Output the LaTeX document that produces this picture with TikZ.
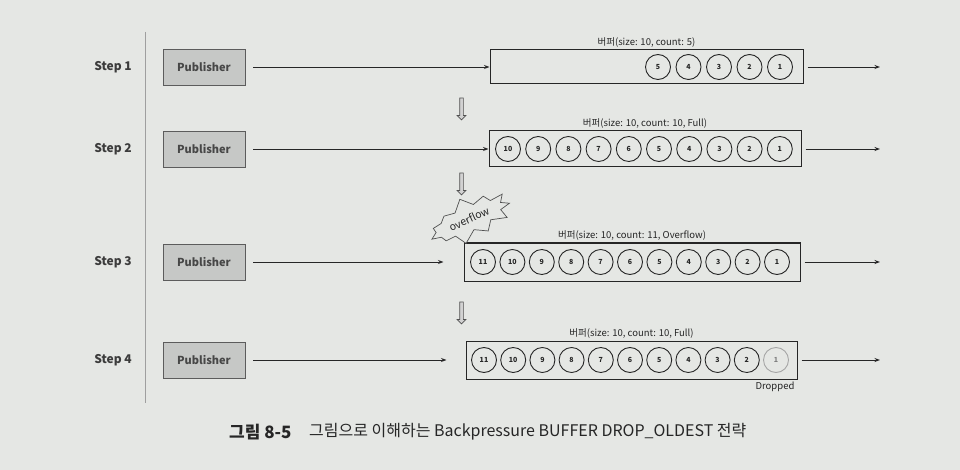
\documentclass[tikz,border=0pt]{standalone}
\usepackage{fontspec}
\setmainfont{Noto Sans CJK KR}
\usetikzlibrary{arrows.meta,shapes.symbols,shapes.arrows}
\definecolor{bg}{RGB}{229,231,228}
\definecolor{pubfill}{RGB}{198,200,198}
\definecolor{ink}{RGB}{38,38,38}

\tikzset{
  steplabel/.style={font=\fontsize{12}{13}\selectfont\bfseries, text=ink!90},
  pubbox/.style={draw=ink!75, fill=pubfill, line width=0.9pt, minimum width=82pt,
    minimum height=36pt, font=\fontsize{11}{12}\selectfont\bfseries, text=ink!85},
  bufbox/.style={draw=ink, line width=1pt, fill=bg, inner sep=0pt},
  buftitle/.style={anchor=south, inner sep=1.5pt, font=\fontsize{9.5}{10}\selectfont, text=ink},
  ball/.style={circle, draw=ink, line width=0.9pt, minimum size=25pt, inner sep=0pt,
    font=\fontsize{7}{8}\selectfont\bfseries, text=ink},
  oldball/.style={ball, draw=gray!70, text=gray},
  flow/.style={-{Stealth[length=5.5pt,width=4pt]}, line width=0.9pt, draw=ink},
  downarrow/.style={single arrow, draw=ink!80, fill=gray!35, line width=0.7pt,
    shape border rotate=270, minimum height=22pt, inner sep=1.5pt,
    single arrow head extend=2.5pt},
  burst/.style={starburst, draw=ink!80, fill=bg, line width=0.7pt, starburst points=11,
    starburst point height=11pt, random starburst=7, rotate=25, inner sep=4pt,
    font=\fontsize{10.5}{11}\selectfont, text=ink}
}

\begin{document}
\begin{tikzpicture}[x=1pt,y=-1pt]
\fill[bg] (0,0) rectangle (960,470);
\useasboundingbox (0,0) rectangle (960,470);

% left rule
\draw[gray!75, line width=0.7pt] (145,32) -- (145,403);

% rows: step label and publisher
\foreach \i/\y in {1/67,2/149,3/262,4/360} {
  \node[steplabel] (step\i) at (113,\y) {Step \i};
  \node[pubbox] (pub\i) at (204,\y) {Publisher};
  \coordinate (out\i) at (880,\y);
}

% Step 1
\node[bufbox, minimum width=313pt, minimum height=34pt] (buf1) at (646.5,67) {};
\node[buftitle] (title1) at (buf1.north) {버퍼(size: 10, count: 5)};
\foreach \n [count=\k from 0] in {5,4,3,2,1}
  \node[ball] (b1-\n) at (658+30.5*\k,67) {\n};

% Step 2
\node[bufbox, minimum width=312pt, minimum height=36pt] (buf2) at (645,149) {};
\node[buftitle] (title2) at (buf2.north) {버퍼(size: 10, count: 10, Full)};
\foreach \n [count=\k from 0] in {10,9,8,7,6,5,4,3,2,1}
  \node[ball] (b2-\n) at (508+30.2*\k,149) {\n};

% Step 3
\node[bufbox, minimum width=336pt, minimum height=38pt] (buf3) at (632,262) {};
\node[buftitle] (title3) at (buf3.north) {버퍼(size: 10, count: 11, Overflow)};
\foreach \n [count=\k from 0] in {11,10,9,8,7,6,5,4,3,2,1}
  \node[ball] (b3-\n) at (483+29.4*\k,262) {\n};
\node[burst] (ovf) at (469,219) {overflow};

% Step 4
\node[bufbox, minimum width=331pt, minimum height=38pt] (buf4) at (631.5,360) {};
\node[buftitle] (title4) at (buf4.north) {버퍼(size: 10, count: 10, Full)};
\foreach \n [count=\k from 0] in {11,10,9,8,7,6,5,4,3,2}
  \node[ball] (b4-\n) at (484+29.2*\k,360) {\n};
\node[oldball] (b4-1) at (776,360) {1};
\node[font=\fontsize{9.5}{10}\selectfont, text=ink, anchor=north, inner sep=1pt] (drop) at (775,381) {Dropped};

% transitions
\node[downarrow] (d12) at (461.5,108) {};
\node[downarrow] (d23) at (461.5,183) {};
\node[downarrow] (d34) at (461.5,312) {};

% connectors
\draw[flow, shorten <=8pt] (pub1.east) -- (buf1.west);
\draw[flow, shorten <=8pt] (pub2.east) -- (buf2.west);
\draw[flow, shorten <=8pt, shorten >=20pt] (pub3.east) -- (buf3.west);
\draw[flow, shorten <=8pt, shorten >=19pt] (pub4.east) -- (buf4.west);
\foreach \i in {1,2,3,4}
  \draw[flow, shorten <=4pt] (buf\i.east) -- (out\i);

% caption
\node[anchor=west, inner sep=0pt, font=\fontsize{17}{19}\selectfont\bfseries, text=ink] (capnum) at (229,432) {그림 8-5};
\node[anchor=west, inner sep=0pt, font=\fontsize{16}{18}\selectfont, text=ink] (captext) at (309,432) {그림으로 이해하는 Backpressure BUFFER DROP\_OLDEST 전략};
\end{tikzpicture}
\end{document}
